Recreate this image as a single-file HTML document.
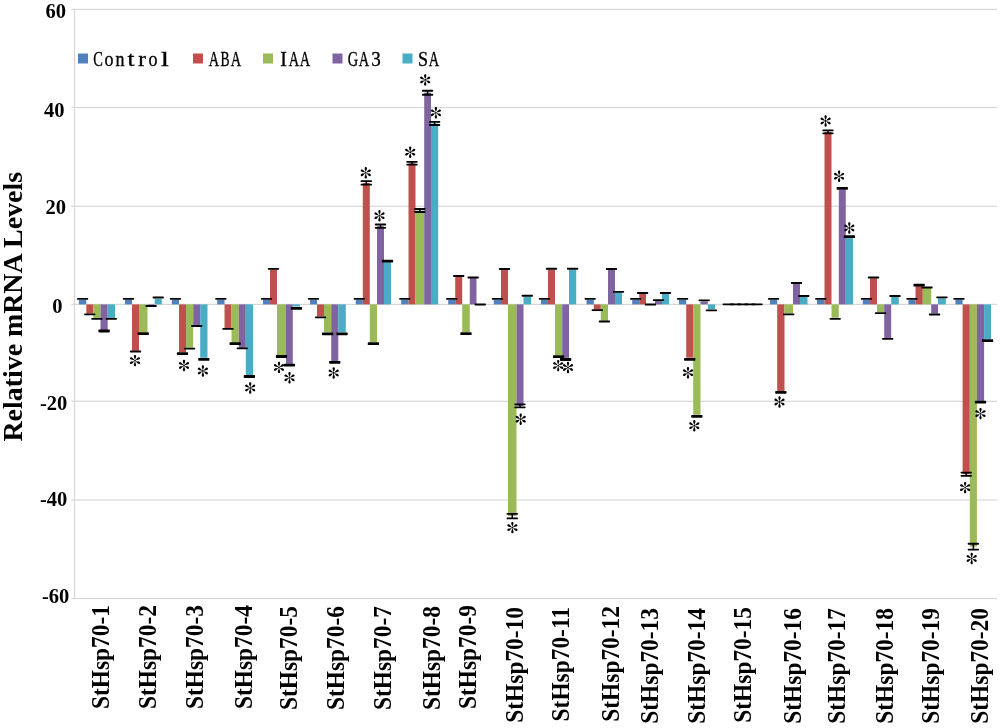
<!DOCTYPE html>
<html><head><meta charset="utf-8"><style>
html,body{margin:0;padding:0;background:#fff;}
body{width:1000px;height:728px;overflow:hidden;position:relative;}
svg{position:absolute;left:0;top:0;}
.yt{position:absolute;font-family:"Liberation Serif",serif;font-weight:bold;font-size:20.5px;line-height:20px;height:20px;transform:translateY(-50%);white-space:nowrap;filter:grayscale(1);}
.xl{position:absolute;font-family:"Liberation Serif",serif;font-weight:bold;font-size:23.4px;line-height:24px;white-space:nowrap;writing-mode:vertical-rl;transform:rotate(180deg) scaleX(1.08);filter:grayscale(1);}
.lg{position:absolute;top:48.6px;width:20px;text-align:center;font-family:"Liberation Serif",serif;font-size:20px;line-height:20px;white-space:nowrap;filter:grayscale(1);-webkit-text-stroke:0.35px #000;}
.tt{position:absolute;font-family:"Liberation Serif",serif;font-weight:bold;font-size:27.9px;line-height:30px;white-space:nowrap;writing-mode:vertical-rl;transform:rotate(180deg);left:-1.6px;top:172px;filter:grayscale(1);}
</style></head><body>
<svg width="1000" height="728" viewBox="0 0 1000 728"><defs><g id="ast"><path d="M0,-0.6 C-0.45,-2.0 -1.25,-3.6 -1.15,-4.5 C-1.05,-5.35 -0.55,-5.7 0,-5.7 C0.55,-5.7 1.05,-5.35 1.15,-4.5 C1.25,-3.6 0.45,-2.0 0,-0.6 Z" transform="rotate(0)"/><path d="M0,-0.6 C-0.45,-2.0 -1.25,-3.6 -1.15,-4.5 C-1.05,-5.35 -0.55,-5.7 0,-5.7 C0.55,-5.7 1.05,-5.35 1.15,-4.5 C1.25,-3.6 0.45,-2.0 0,-0.6 Z" transform="rotate(60)"/><path d="M0,-0.6 C-0.45,-2.0 -1.25,-3.6 -1.15,-4.5 C-1.05,-5.35 -0.55,-5.7 0,-5.7 C0.55,-5.7 1.05,-5.35 1.15,-4.5 C1.25,-3.6 0.45,-2.0 0,-0.6 Z" transform="rotate(120)"/><path d="M0,-0.6 C-0.45,-2.0 -1.25,-3.6 -1.15,-4.5 C-1.05,-5.35 -0.55,-5.7 0,-5.7 C0.55,-5.7 1.05,-5.35 1.15,-4.5 C1.25,-3.6 0.45,-2.0 0,-0.6 Z" transform="rotate(180)"/><path d="M0,-0.6 C-0.45,-2.0 -1.25,-3.6 -1.15,-4.5 C-1.05,-5.35 -0.55,-5.7 0,-5.7 C0.55,-5.7 1.05,-5.35 1.15,-4.5 C1.25,-3.6 0.45,-2.0 0,-0.6 Z" transform="rotate(240)"/><path d="M0,-0.6 C-0.45,-2.0 -1.25,-3.6 -1.15,-4.5 C-1.05,-5.35 -0.55,-5.7 0,-5.7 C0.55,-5.7 1.05,-5.35 1.15,-4.5 C1.25,-3.6 0.45,-2.0 0,-0.6 Z" transform="rotate(300)"/><circle r="0.9"/></g></defs><rect x="71.3" y="8.8" width="925.7" height="1.2" fill="#D7D7D7"/><rect x="71.3" y="106.9" width="925.7" height="1.2" fill="#D7D7D7"/><rect x="71.3" y="205.7" width="925.7" height="1.2" fill="#D7D7D7"/><rect x="71.3" y="303.8" width="925.7" height="1.2" fill="#D7D7D7"/><rect x="71.3" y="400.7" width="925.7" height="1.2" fill="#D7D7D7"/><rect x="71.3" y="499.4" width="925.7" height="1.2" fill="#D7D7D7"/><rect x="71.3" y="597.9" width="925.7" height="1.2" fill="#D7D7D7"/><rect x="73.9" y="8.8" width="1.2" height="590.3" fill="#D7D7D7"/><rect x="78.9" y="299.9" width="7.4" height="4.5" fill="#4F81BD"/><rect x="86.3" y="304.4" width="7" height="9.3" fill="#C0504D"/><rect x="93.3" y="304.4" width="7.2" height="13.7" fill="#9BBB59"/><rect x="100.5" y="304.4" width="7.2" height="26.1" fill="#8064A2"/><rect x="107.7" y="304.4" width="7.3" height="13.6" fill="#4BACC6"/><rect x="125" y="299.9" width="7" height="4.5" fill="#4F81BD"/><rect x="132" y="304.4" width="7" height="46.4" fill="#C0504D"/><rect x="139" y="304.4" width="8.5" height="27.9" fill="#9BBB59"/><rect x="147.5" y="304.4" width="7.2" height="1.1" fill="#8064A2"/><rect x="154.7" y="298.8" width="7.1" height="5.6" fill="#4BACC6"/><rect x="171.8" y="299.9" width="7.2" height="4.5" fill="#4F81BD"/><rect x="179" y="304.4" width="7" height="47.8" fill="#C0504D"/><rect x="186" y="304.4" width="7.2" height="43.3" fill="#9BBB59"/><rect x="193.2" y="304.4" width="7" height="20.9" fill="#8064A2"/><rect x="200.2" y="304.4" width="7.3" height="53.4" fill="#4BACC6"/><rect x="217.2" y="299.9" width="7.3" height="4.5" fill="#4F81BD"/><rect x="224.5" y="304.4" width="7" height="24.1" fill="#C0504D"/><rect x="231.5" y="304.4" width="7.3" height="38.5" fill="#9BBB59"/><rect x="238.8" y="304.4" width="7" height="43.6" fill="#8064A2"/><rect x="245.8" y="304.4" width="7.2" height="70.6" fill="#4BACC6"/><rect x="263" y="299.9" width="7" height="4.5" fill="#4F81BD"/><rect x="270" y="269.5" width="7" height="34.9" fill="#C0504D"/><rect x="277" y="304.4" width="9" height="50.9" fill="#9BBB59"/><rect x="286" y="304.4" width="6.8" height="59.5" fill="#8064A2"/><rect x="292.8" y="304.4" width="7.2" height="2.1" fill="#4BACC6"/><rect x="310" y="299.9" width="7" height="4.5" fill="#4F81BD"/><rect x="317" y="304.4" width="7" height="12.1" fill="#C0504D"/><rect x="324" y="304.4" width="7.2" height="27.9" fill="#9BBB59"/><rect x="331.2" y="304.4" width="7.1" height="56.8" fill="#8064A2"/><rect x="338.3" y="304.4" width="7.5" height="27.9" fill="#4BACC6"/><rect x="355.8" y="299.9" width="7" height="4.5" fill="#4F81BD"/><rect x="362.8" y="183" width="7" height="121.4" fill="#C0504D"/><rect x="369.8" y="304.4" width="7.2" height="37.9" fill="#9BBB59"/><rect x="377" y="226.2" width="7" height="78.2" fill="#8064A2"/><rect x="384" y="262.2" width="7" height="42.2" fill="#4BACC6"/><rect x="401.2" y="299.9" width="7.3" height="4.5" fill="#4F81BD"/><rect x="408.5" y="163.3" width="7" height="141.1" fill="#C0504D"/><rect x="415.5" y="210.5" width="8.7" height="93.9" fill="#9BBB59"/><rect x="424.2" y="92.7" width="6.8" height="211.7" fill="#8064A2"/><rect x="431" y="123.5" width="7.2" height="180.9" fill="#4BACC6"/><rect x="448.2" y="299.9" width="7" height="4.5" fill="#4F81BD"/><rect x="455.2" y="276.8" width="7" height="27.6" fill="#C0504D"/><rect x="462.2" y="304.4" width="7.6" height="27.6" fill="#9BBB59"/><rect x="469.8" y="278" width="6.7" height="26.4" fill="#8064A2"/><rect x="493.8" y="299.9" width="7.2" height="4.5" fill="#4F81BD"/><rect x="501" y="269.9" width="7" height="34.5" fill="#C0504D"/><rect x="508" y="304.4" width="8.5" height="211.6" fill="#9BBB59"/><rect x="516.5" y="304.4" width="7" height="101.5" fill="#8064A2"/><rect x="523.5" y="296.8" width="7.5" height="7.6" fill="#4BACC6"/><rect x="541" y="299.9" width="7" height="4.5" fill="#4F81BD"/><rect x="548" y="269.6" width="7" height="34.8" fill="#C0504D"/><rect x="555" y="304.4" width="7.2" height="50.7" fill="#9BBB59"/><rect x="562.2" y="304.4" width="6.8" height="53.5" fill="#8064A2"/><rect x="569" y="269.6" width="7.2" height="34.8" fill="#4BACC6"/><rect x="586.5" y="299.9" width="7.3" height="4.5" fill="#4F81BD"/><rect x="593.8" y="304.4" width="7" height="5.1" fill="#C0504D"/><rect x="600.8" y="304.4" width="7.2" height="16.4" fill="#9BBB59"/><rect x="608" y="270" width="7" height="34.4" fill="#8064A2"/><rect x="615" y="292.5" width="7" height="11.9" fill="#4BACC6"/><rect x="632.2" y="299.9" width="7" height="4.5" fill="#4F81BD"/><rect x="639.2" y="294" width="6.8" height="10.4" fill="#C0504D"/><rect x="655" y="300.8" width="7" height="3.6" fill="#8064A2"/><rect x="662" y="293.8" width="7" height="10.6" fill="#4BACC6"/><rect x="679" y="299.9" width="7.2" height="4.5" fill="#4F81BD"/><rect x="686.2" y="304.4" width="7" height="53.3" fill="#C0504D"/><rect x="693.2" y="304.4" width="7.3" height="110.4" fill="#9BBB59"/><rect x="700.5" y="301.5" width="7.3" height="2.9" fill="#8064A2"/><rect x="707.8" y="304.4" width="7.2" height="4.8" fill="#4BACC6"/><rect x="770" y="299.9" width="7.2" height="4.5" fill="#4F81BD"/><rect x="777.2" y="304.4" width="7.3" height="86.6" fill="#C0504D"/><rect x="784.5" y="304.4" width="8.5" height="9.1" fill="#9BBB59"/><rect x="793" y="283.8" width="7" height="20.6" fill="#8064A2"/><rect x="800" y="296.8" width="7.5" height="7.6" fill="#4BACC6"/><rect x="817" y="299.9" width="7.5" height="4.5" fill="#4F81BD"/><rect x="824.5" y="131.9" width="7" height="172.5" fill="#C0504D"/><rect x="831.5" y="304.4" width="7.3" height="13.4" fill="#9BBB59"/><rect x="838.8" y="189.7" width="7" height="114.7" fill="#8064A2"/><rect x="845.8" y="238.1" width="7.2" height="66.3" fill="#4BACC6"/><rect x="862.8" y="299.9" width="7.2" height="4.5" fill="#4F81BD"/><rect x="870" y="278.2" width="7" height="26.2" fill="#C0504D"/><rect x="877" y="304.4" width="7.2" height="7.6" fill="#9BBB59"/><rect x="884.2" y="304.4" width="7" height="33.6" fill="#8064A2"/><rect x="891.2" y="296.5" width="7.6" height="7.9" fill="#4BACC6"/><rect x="908.5" y="299.9" width="7" height="4.5" fill="#4F81BD"/><rect x="915.5" y="286" width="7.3" height="18.4" fill="#C0504D"/><rect x="922.8" y="288" width="8.4" height="16.4" fill="#9BBB59"/><rect x="931.2" y="304.4" width="6.8" height="9.1" fill="#8064A2"/><rect x="938" y="298.2" width="7.8" height="6.2" fill="#4BACC6"/><rect x="955.4" y="299.9" width="7.2" height="4.5" fill="#4F81BD"/><rect x="962.6" y="304.4" width="7.2" height="169.8" fill="#C0504D"/><rect x="969.8" y="304.4" width="7.1" height="242.3" fill="#9BBB59"/><rect x="976.9" y="304.4" width="7.2" height="96.5" fill="#8064A2"/><rect x="984.1" y="304.4" width="6.9" height="34.8" fill="#4BACC6"/><g fill="#000"><rect x="76.95" y="298" width="11.3" height="1.8" rx="0.7"/><rect x="84.15" y="313.47" width="11.3" height="1.85" rx="0.7"/><rect x="91.25" y="317.88" width="11.3" height="1.85" rx="0.7"/><rect x="98.45" y="329.6" width="11.3" height="2.8" rx="0.7"/><rect x="105.7" y="317.88" width="11.3" height="1.85" rx="0.7"/><rect x="122.85" y="298" width="11.3" height="1.8" rx="0.7"/><rect x="129.85" y="350.57" width="11.3" height="1.85" rx="0.7"/><rect x="137.6" y="332.3" width="11.3" height="2.8" rx="0.7"/><rect x="145.45" y="305.07" width="11.3" height="1.85" rx="0.7"/><rect x="152.6" y="296.57" width="11.3" height="1.85" rx="0.7"/><rect x="169.75" y="298" width="11.3" height="1.8" rx="0.7"/><rect x="176.85" y="352.2" width="11.3" height="2.8" rx="0.7"/><rect x="183.95" y="347.68" width="11.3" height="1.85" rx="0.7"/><rect x="191.05" y="325.07" width="11.3" height="1.85" rx="0.7"/><rect x="198.2" y="358" width="11.3" height="2.8" rx="0.7"/><rect x="215.2" y="298" width="11.3" height="1.8" rx="0.7"/><rect x="222.35" y="327.97" width="11.3" height="1.85" rx="0.7"/><rect x="229.5" y="342.2" width="11.3" height="2.8" rx="0.7"/><rect x="236.65" y="347.47" width="11.3" height="1.85" rx="0.7"/><rect x="243.75" y="375.1" width="11.3" height="2.8" rx="0.7"/><rect x="260.85" y="298" width="11.3" height="1.8" rx="0.7"/><rect x="267.85" y="267.88" width="11.3" height="1.85" rx="0.7"/><rect x="275.85" y="355.1" width="11.3" height="2.8" rx="0.7"/><rect x="283.75" y="363.8" width="11.3" height="2.8" rx="0.7"/><rect x="290.75" y="306.9" width="11.3" height="2.8" rx="0.7"/><rect x="307.85" y="298" width="11.3" height="1.8" rx="0.7"/><rect x="314.85" y="316.47" width="11.3" height="1.85" rx="0.7"/><rect x="321.95" y="332.4" width="11.3" height="2.8" rx="0.7"/><rect x="329.1" y="360.9" width="11.3" height="2.8" rx="0.7"/><rect x="336.4" y="332.4" width="11.3" height="2.8" rx="0.7"/><rect x="353.65" y="298" width="11.3" height="1.8" rx="0.7"/><rect x="360.65" y="180.27" width="11.3" height="1.85" rx="0.7"/><rect x="360.65" y="183.77" width="11.3" height="1.85" rx="0.7"/><rect x="365.55" y="181.2" width="1.5" height="3.5"/><rect x="367.75" y="342.3" width="11.3" height="2.8" rx="0.7"/><rect x="374.85" y="223.57" width="11.3" height="1.85" rx="0.7"/><rect x="374.85" y="226.97" width="11.3" height="1.85" rx="0.7"/><rect x="379.75" y="224.5" width="1.5" height="3.4"/><rect x="381.85" y="259.8" width="11.3" height="2.8" rx="0.7"/><rect x="399.2" y="298" width="11.3" height="1.8" rx="0.7"/><rect x="406.35" y="160.88" width="11.3" height="1.85" rx="0.7"/><rect x="406.35" y="163.77" width="11.3" height="1.85" rx="0.7"/><rect x="411.25" y="161.8" width="1.5" height="2.9"/><rect x="414.2" y="208.07" width="11.3" height="1.85" rx="0.7"/><rect x="414.2" y="211.07" width="11.3" height="1.85" rx="0.7"/><rect x="419.1" y="209" width="1.5" height="3"/><rect x="421.95" y="89.83" width="11.3" height="1.85" rx="0.7"/><rect x="421.95" y="93.78" width="11.3" height="1.85" rx="0.7"/><rect x="426.85" y="90.75" width="1.5" height="3.95"/><rect x="428.95" y="120.98" width="11.3" height="1.85" rx="0.7"/><rect x="428.95" y="124.08" width="11.3" height="1.85" rx="0.7"/><rect x="433.85" y="121.9" width="1.5" height="3.1"/><rect x="446.05" y="298" width="11.3" height="1.8" rx="0.7"/><rect x="453.05" y="275.07" width="11.3" height="1.85" rx="0.7"/><rect x="460.35" y="332.3" width="11.3" height="2.8" rx="0.7"/><rect x="467.5" y="276.57" width="11.3" height="1.85" rx="0.7"/><rect x="474.6" y="303.57" width="11.3" height="1.85" rx="0.7"/><rect x="491.75" y="298" width="11.3" height="1.8" rx="0.7"/><rect x="498.85" y="267.9" width="11.3" height="2" rx="0.7"/><rect x="506.6" y="512.98" width="11.3" height="1.85" rx="0.7"/><rect x="506.6" y="517.48" width="11.3" height="1.85" rx="0.7"/><rect x="511.5" y="513.9" width="1.5" height="4.5"/><rect x="514.35" y="403.38" width="11.3" height="1.85" rx="0.7"/><rect x="514.35" y="406.47" width="11.3" height="1.85" rx="0.7"/><rect x="519.25" y="404.3" width="1.5" height="3.1"/><rect x="521.6" y="294.8" width="11.3" height="2" rx="0.7"/><rect x="538.85" y="298" width="11.3" height="1.8" rx="0.7"/><rect x="545.85" y="267.7" width="11.3" height="2" rx="0.7"/><rect x="552.95" y="355.2" width="11.3" height="2.8" rx="0.7"/><rect x="559.95" y="358.1" width="11.3" height="2.8" rx="0.7"/><rect x="566.95" y="267.7" width="11.3" height="2" rx="0.7"/><rect x="584.5" y="298" width="11.3" height="1.8" rx="0.7"/><rect x="591.65" y="309.27" width="11.3" height="1.85" rx="0.7"/><rect x="598.75" y="320.57" width="11.3" height="1.85" rx="0.7"/><rect x="605.85" y="268.07" width="11.3" height="1.85" rx="0.7"/><rect x="612.85" y="290.88" width="11.3" height="1.85" rx="0.7"/><rect x="630.05" y="298" width="11.3" height="1.8" rx="0.7"/><rect x="636.95" y="292.07" width="11.3" height="1.85" rx="0.7"/><rect x="644.85" y="303.57" width="11.3" height="1.85" rx="0.7"/><rect x="652.85" y="299.27" width="11.3" height="1.85" rx="0.7"/><rect x="659.85" y="292.07" width="11.3" height="1.85" rx="0.7"/><rect x="676.95" y="298" width="11.3" height="1.8" rx="0.7"/><rect x="684.05" y="357.9" width="11.3" height="2.8" rx="0.7"/><rect x="691.2" y="415" width="11.3" height="2.8" rx="0.7"/><rect x="698.5" y="299.38" width="11.3" height="1.85" rx="0.7"/><rect x="705.75" y="309.38" width="11.3" height="1.85" rx="0.7"/><rect x="722.61" y="303.5" width="11.3" height="1.8" rx="0.7"/><rect x="729.81" y="303.5" width="11.3" height="1.8" rx="0.7"/><rect x="737.01" y="303.5" width="11.3" height="1.8" rx="0.7"/><rect x="744.21" y="303.5" width="11.3" height="1.8" rx="0.7"/><rect x="751.41" y="303.5" width="11.3" height="1.8" rx="0.7"/><rect x="767.95" y="298" width="11.3" height="1.8" rx="0.7"/><rect x="775.2" y="391" width="11.3" height="2.8" rx="0.7"/><rect x="783.1" y="313.38" width="11.3" height="1.85" rx="0.7"/><rect x="790.85" y="282.07" width="11.3" height="1.85" rx="0.7"/><rect x="798.1" y="295.07" width="11.3" height="1.85" rx="0.7"/><rect x="815.1" y="298" width="11.3" height="1.8" rx="0.7"/><rect x="822.35" y="129.38" width="11.3" height="1.85" rx="0.7"/><rect x="822.35" y="132.47" width="11.3" height="1.85" rx="0.7"/><rect x="827.25" y="130.3" width="1.5" height="3.1"/><rect x="829.5" y="317.88" width="11.3" height="1.85" rx="0.7"/><rect x="836.65" y="186.9" width="11.3" height="2.8" rx="0.7"/><rect x="843.75" y="235.3" width="11.3" height="2.8" rx="0.7"/><rect x="860.75" y="298" width="11.3" height="1.8" rx="0.7"/><rect x="867.85" y="276.57" width="11.3" height="1.85" rx="0.7"/><rect x="874.95" y="312.27" width="11.3" height="1.85" rx="0.7"/><rect x="882.05" y="337.88" width="11.3" height="1.85" rx="0.7"/><rect x="889.35" y="295.07" width="11.3" height="1.85" rx="0.7"/><rect x="906.35" y="298" width="11.3" height="1.8" rx="0.7"/><rect x="913.5" y="283.8" width="11.3" height="2.8" rx="0.7"/><rect x="921.35" y="286.57" width="11.3" height="1.85" rx="0.7"/><rect x="928.95" y="313.57" width="11.3" height="1.85" rx="0.7"/><rect x="936.25" y="296.38" width="11.3" height="1.85" rx="0.7"/><rect x="953.35" y="298" width="11.3" height="1.8" rx="0.7"/><rect x="960.55" y="471.68" width="11.3" height="1.85" rx="0.7"/><rect x="960.55" y="474.88" width="11.3" height="1.85" rx="0.7"/><rect x="965.45" y="472.6" width="1.5" height="3.2"/><rect x="967.7" y="542.78" width="11.3" height="1.85" rx="0.7"/><rect x="967.7" y="548.68" width="11.3" height="1.85" rx="0.7"/><rect x="972.6" y="543.7" width="1.5" height="5.9"/><rect x="974.85" y="400.8" width="11.3" height="2.8" rx="0.7"/><rect x="981.9" y="339.3" width="11.3" height="2.8" rx="0.7"/></g><use href="#ast" x="135" y="360.6"/><use href="#ast" x="184" y="365.5"/><use href="#ast" x="202.9" y="371"/><use href="#ast" x="250.2" y="388"/><use href="#ast" x="279" y="367.4"/><use href="#ast" x="289.5" y="377.8"/><use href="#ast" x="333.7" y="373"/><use href="#ast" x="365.8" y="172.8"/><use href="#ast" x="379.5" y="215.7"/><use href="#ast" x="410.2" y="152.2"/><use href="#ast" x="425.2" y="79.9"/><use href="#ast" x="435.9" y="112.8"/><use href="#ast" x="512.4" y="527.6"/><use href="#ast" x="520.7" y="419.2"/><use href="#ast" x="558.2" y="365.6"/><use href="#ast" x="568" y="367.5"/><use href="#ast" x="688" y="372.7"/><use href="#ast" x="694.3" y="425.7"/><use href="#ast" x="779.5" y="402"/><use href="#ast" x="825.6" y="121"/><use href="#ast" x="839.1" y="176.2"/><use href="#ast" x="849.3" y="228"/><use href="#ast" x="965.1" y="487.6"/><use href="#ast" x="971.7" y="558.5"/><use href="#ast" x="980.5" y="413.6"/><rect x="78" y="53.5" width="10" height="10" fill="#4F81BD"/><rect x="193" y="53.5" width="10" height="10" fill="#C0504D"/><rect x="263" y="53.5" width="10" height="10" fill="#9BBB59"/><rect x="332.5" y="53.5" width="10" height="10" fill="#8064A2"/><rect x="402.5" y="53.5" width="10" height="10" fill="#4BACC6"/></svg>
<div class="yt" style="right:934.1px;top:10.5px">60</div><div class="yt" style="right:935.4px;top:110px">40</div><div class="yt" style="right:934.1px;top:206.8px">20</div><div class="yt" style="right:937.4px;top:306.4px">0</div><div class="yt" style="right:932.7px;top:402.9px">-20</div><div class="yt" style="right:932.7px;top:499.4px">-40</div><div class="yt" style="right:930.7px;top:595.5px">-60</div>
<div class="xl" style="left:88.4px;top:605.1px">StHsp70-1</div><div class="xl" style="left:135.4px;top:605.1px">StHsp70-2</div><div class="xl" style="left:182px;top:604.7px">StHsp70-3</div><div class="xl" style="left:231px;top:605.1px">StHsp70-4</div><div class="xl" style="left:276px;top:606.1px">StHsp70-5</div><div class="xl" style="left:323px;top:606.1px">StHsp70-6</div><div class="xl" style="left:369.6px;top:605.5px">StHsp70-7</div><div class="xl" style="left:419px;top:606.1px">StHsp70-8</div><div class="xl" style="left:455px;top:605.1px">StHsp70-9</div><div class="xl" style="left:502.4px;top:607px">StHsp70-10</div><div class="xl" style="left:548.4px;top:607px">StHsp70-11</div><div class="xl" style="left:598px;top:606px">StHsp70-12</div><div class="xl" style="left:637px;top:607.6px">StHsp70-13</div><div class="xl" style="left:684px;top:608px">StHsp70-14</div><div class="xl" style="left:730.4px;top:607px">StHsp70-15</div><div class="xl" style="left:780px;top:608px">StHsp70-16</div><div class="xl" style="left:824px;top:608px">StHsp70-17</div><div class="xl" style="left:872px;top:608px">StHsp70-18</div><div class="xl" style="left:918.4px;top:608px">StHsp70-19</div><div class="xl" style="left:967px;top:608px">StHsp70-20</div>
<div class="lg" style="left:87.75px;transform:scaleX(0.72)">C</div><div class="lg" style="left:98.75px;transform:scaleX(0.9)">o</div><div class="lg" style="left:110.25px;transform:scaleX(0.9)">n</div><div class="lg" style="left:121px;transform:scaleX(1.25)">t</div><div class="lg" style="left:132px;transform:scaleX(1.15)">r</div><div class="lg" style="left:143px;transform:scaleX(0.9)">o</div><div class="lg" style="left:155px;transform:scaleX(1.4)">l</div><div class="lg" style="left:204.1px;transform:scaleX(0.72)">A</div><div class="lg" style="left:214.8px;transform:scaleX(0.68)">B</div><div class="lg" style="left:225.5px;transform:scaleX(0.72)">A</div><div class="lg" style="left:273.6px;transform:scaleX(1.0)">I</div><div class="lg" style="left:284px;transform:scaleX(0.72)">A</div><div class="lg" style="left:295.4px;transform:scaleX(0.72)">A</div><div class="lg" style="left:343.1px;transform:scaleX(0.72)">G</div><div class="lg" style="left:354.4px;transform:scaleX(0.72)">A</div><div class="lg" style="left:365.9px;transform:scaleX(0.95)">3</div><div class="lg" style="left:413px;transform:scaleX(0.9)">S</div><div class="lg" style="left:424.4px;transform:scaleX(0.72)">A</div>
<div class="tt">Relative mRNA Levels</div>
</body></html>
